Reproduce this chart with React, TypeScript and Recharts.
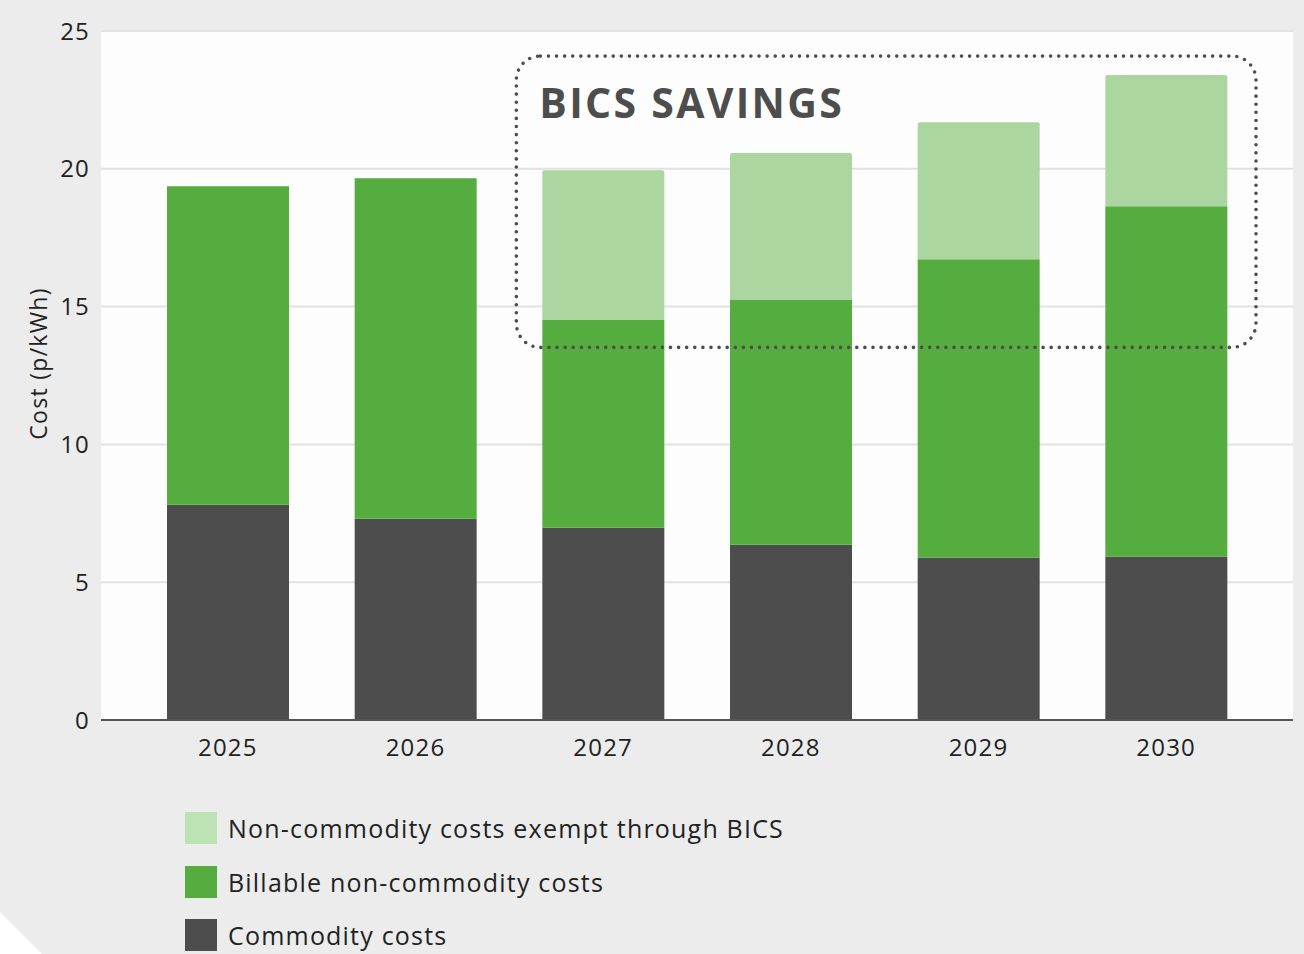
import React from 'react';
import { BarChart, Bar, XAxis, YAxis, CartesianGrid, ReferenceArea } from 'recharts';

const years = ['2025', '2026', '2027', '2028', '2029', '2030'];
const commodity = [7.81, 7.3, 6.98, 6.36, 5.89, 5.92];
const billable = [11.56, 12.36, 7.55, 8.9, 10.83, 12.72];
const exempt = [0, 0, 5.42, 5.31, 4.97, 4.76];
const yTicks = [0, 5, 10, 15, 20, 25];

const seriesNames = {
  exempt: 'Non-commodity costs exempt through BICS',
  billable: 'Billable non-commodity costs',
  commodity: 'Commodity costs',
};

const COLORS = {
  commodity: '#4d4d4d',
  billable: '#55ad3f',
  exempt: '#abd6a0',
  exemptLegend: '#bde2b3',
};

const data = years.map((y, i) => ({
  year: y,
  commodity: commodity[i],
  billable: billable[i],
  exempt: exempt[i],
}));

const FONT = '"Open Sans", "Noto Sans", sans-serif';

const BoxShape = (props: any) => {
  const { x, y, width, height } = props;
  return (
    <g>
      <rect
        x={x + 7}
        y={y}
        width={width - 11}
        height={height}
        rx={24}
        ry={24}
        fill="none"
        stroke="#4d4d4d"
        strokeWidth={3.6}
        strokeDasharray="0 8.1"
        strokeLinecap="round"
      />
      <text
        x={x + 30}
        y={y + 62}
        fill="#4d4d4d"
        fontFamily={FONT}
        fontWeight={700}
        fontSize={41}
        letterSpacing={2.3}
      >
        BICS SAVINGS
      </text>
    </g>
  );
};

const YLabel = (props: any) => {
  const vb = props.viewBox || {};
  const cx = (vb.x ?? 0) + 38;
  const cy = (vb.y ?? 0) + (vb.height ?? 0) / 2 - 12;
  return (
    <text
      x={cx}
      y={cy}
      transform={`rotate(-90 ${cx} ${cy})`}
      textAnchor="middle"
      dominantBaseline="central"
      fill="#222222"
      fontFamily={FONT}
      fontSize={23}
      letterSpacing={1.3}
    >
      Cost (p/kWh)
    </text>
  );
};

const legendItems = [
  { name: seriesNames.exempt, color: COLORS.exemptLegend },
  { name: seriesNames.billable, color: COLORS.billable },
  { name: seriesNames.commodity, color: COLORS.commodity },
];

export default function App() {
  return (
    <div
      style={{
        position: 'absolute',
        left: 0,
        top: 0,
        width: 1304,
        height: 954,
        background: '#ececec',
        overflow: 'hidden',
        fontFamily: FONT,
      }}
    >
      <svg width={1304} height={954} style={{ position: 'absolute', left: 0, top: 0 }}>
        <polygon points="0,912 42,954 0,954" fill="#ffffff" />
      </svg>
      <div style={{ position: 'absolute', left: 0, top: 0 }}>
        <BarChart
          width={1304}
          height={954}
          data={data}
          margin={{ top: 31, right: 11, bottom: 194, left: 0 }}
          barCategoryGap={0}
        >
          <CartesianGrid vertical={false} stroke="#e2e2e2" strokeWidth={2} fill="#fdfdfd" />
          <XAxis
            dataKey="year"
            padding={{ left: 33, right: 33 }}
            tickLine={false}
            tickSize={0}
            tickMargin={19}
            height={40}
            axisLine={{ stroke: '#555555', strokeWidth: 2 }}
            tick={{ fill: '#222222', fontSize: 24, fontFamily: FONT, letterSpacing: 1.2 }}
          />
          <YAxis
            domain={[0, 25]}
            ticks={yTicks}
            width={101}
            axisLine={false}
            tickLine={false}
            tickSize={0}
            tickMargin={11}
            tick={{ fill: '#222222', fontSize: 24, fontFamily: FONT, letterSpacing: 1.2 }}
            label={<YLabel />}
          />
          <Bar dataKey="commodity" stackId="a" fill={COLORS.commodity} barSize={122} isAnimationActive={false} name={seriesNames.commodity} />
          <Bar dataKey="billable" stackId="a" fill={COLORS.billable} barSize={122} isAnimationActive={false} name={seriesNames.billable} />
          <Bar dataKey="exempt" stackId="a" fill={COLORS.exempt} barSize={122} radius={[2, 2, 0, 0]} isAnimationActive={false} name={seriesNames.exempt} />
          <ReferenceArea
            x1="2027"
            x2="2030"
            y1={13.52}
            y2={24.09}
            ifOverflow="visible"
            shape={BoxShape}
            {...({ zIndex: 2500 } as any)}
          />
        </BarChart>
      </div>
      {legendItems.map((item, i) => (
        <div
          key={item.name}
          style={{
            position: 'absolute',
            left: 185,
            top: 812 + i * 53.5,
            height: 32,
            display: 'flex',
            alignItems: 'center',
          }}
        >
          <div style={{ width: 32, height: 32, background: item.color }} />
          <span style={{ marginLeft: 11, fontSize: 25, letterSpacing: 1.2, color: '#222222', whiteSpace: 'nowrap' }}>{item.name}</span>
        </div>
      ))}
    </div>
  );
}
